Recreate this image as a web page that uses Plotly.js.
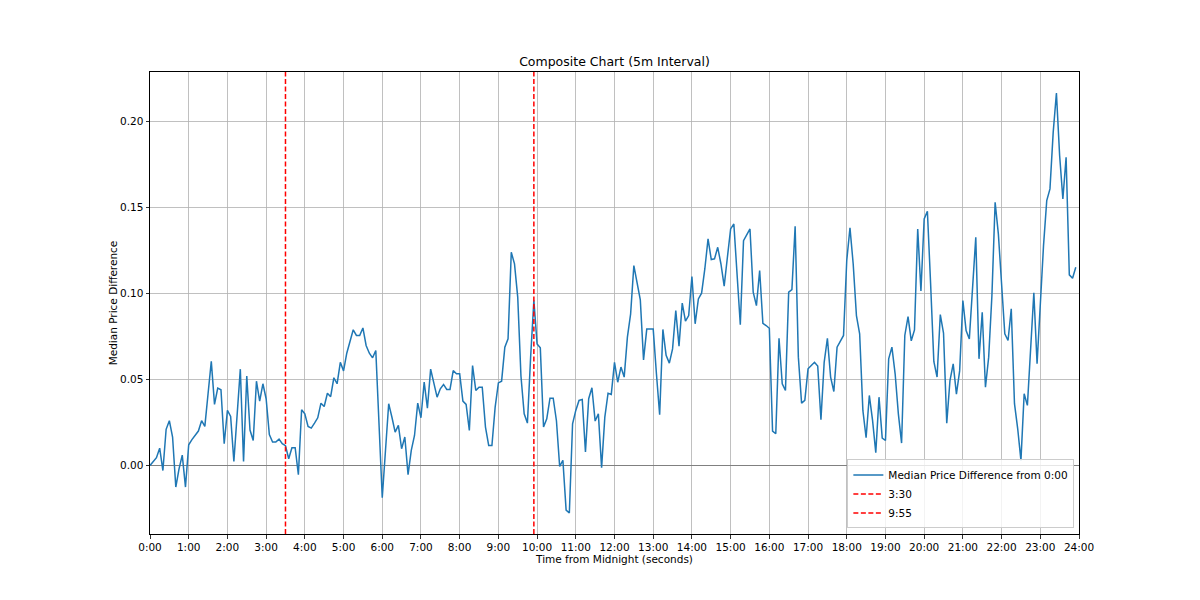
<!DOCTYPE html>
<html>
<head>
<meta charset="utf-8">
<script src="https://cdn.plot.ly/plotly-3.0.1.min.js"></script>
<style>html,body{margin:0;padding:0;background:#fff;}#chart{width:1200px;height:600px;}</style>
</head>
<body>
<div id="chart"></div>
<script>
// 5-minute interval, one row per hour (12 values each)
const intervalSeconds = 300;
const medianDiff = [
  0.000, 0.002, 0.0045, 0.010, -0.003, 0.021, 0.026, 0.0165, -0.0126, -0.002, 0.006, -0.0126,
  0.012, 0.015, 0.0174, 0.020, 0.026, 0.0227, 0.0417, 0.0605, 0.0355, 0.045, 0.044, 0.0126,
  0.032, 0.0285, 0.0023, 0.030, 0.056, 0.0023, 0.052, 0.0206, 0.0145, 0.049, 0.0374, 0.0475,
  0.0388, 0.018, 0.0136, 0.0136, 0.0153, 0.0126, 0.0115, 0.0039, 0.0103, 0.0103, -0.0054, 0.0324,
  0.030, 0.0227, 0.0217, 0.0246, 0.0277, 0.0362, 0.0343, 0.042, 0.040, 0.051, 0.0475, 0.060,
  0.055, 0.0653, 0.0717, 0.0789, 0.0756, 0.0756, 0.080, 0.0698, 0.0653, 0.0626, 0.0669, 0.024,
  -0.0188, 0.0087, 0.0359, 0.028, 0.0194, 0.0233, 0.0097, 0.0165, -0.0054, 0.0087, 0.0174, 0.0362,
  0.0277, 0.0485, 0.0333, 0.056, 0.0475, 0.0397, 0.0446, 0.0471, 0.0442, 0.0442, 0.0552, 0.0533,
  0.0533, 0.0374, 0.0355, 0.0203, 0.0581, 0.0436, 0.0455, 0.0455, 0.0223, 0.0116, 0.0116, 0.0339,
  0.048, 0.049, 0.0688, 0.0737, 0.124, 0.1173, 0.0979, 0.052, 0.030, 0.0246, 0.063, 0.096,
  0.0707, 0.0684, 0.0223, 0.0271, 0.0391, 0.0391, 0.026, -0.0006, 0.003, -0.026, -0.0277, 0.0242,
  0.032, 0.0378, 0.0384, 0.0078, 0.0388, 0.0452, 0.0258, 0.030, -0.0014, 0.0281, 0.042, 0.0413,
  0.060, 0.0484, 0.0572, 0.0514, 0.0746, 0.0882, 0.1163, 0.1066, 0.0963, 0.0614, 0.0793, 0.0793,
  0.0793, 0.0533, 0.0295, 0.0791, 0.064, 0.0595, 0.0678, 0.0901, 0.0694, 0.0944, 0.0839, 0.0872,
  0.1099, 0.0824, 0.0969, 0.1002, 0.1143, 0.1318, 0.1198, 0.1202, 0.1269, 0.1172, 0.1043, 0.1211,
  0.1376, 0.1405, 0.1095, 0.0818, 0.1308, 0.1343, 0.1376, 0.1008, 0.093, 0.1134, 0.0827, 0.0814,
  0.0798, 0.020, 0.0184, 0.074, 0.0475, 0.0436, 0.1008, 0.1023, 0.1391, 0.063, 0.0362, 0.0378,
  0.0562, 0.0581, 0.060, 0.0578, 0.0266, 0.060, 0.074, 0.0514, 0.043, 0.0688, 0.0727, 0.0756,
  0.1192, 0.1382, 0.1172, 0.0872, 0.0766, 0.032, 0.0161, 0.0407, 0.0262, 0.0074, 0.0397, 0.0159,
  0.0145, 0.062, 0.0688, 0.0533, 0.030, 0.013, 0.0756, 0.0866, 0.0725, 0.0788, 0.1376, 0.1015,
  0.1434, 0.1479, 0.1056, 0.0605, 0.0514, 0.0878, 0.077, 0.0246, 0.0494, 0.0591, 0.0415, 0.055,
  0.0959, 0.0785, 0.0736, 0.1066, 0.1328, 0.062, 0.0891, 0.0455, 0.063, 0.0988, 0.1531, 0.1347,
  0.1047, 0.0766, 0.0727, 0.0911, 0.0359, 0.0213, 0.0029, 0.0417, 0.0349, 0.0678, 0.1004, 0.0591,
  0.0969, 0.1279, 0.1541, 0.1609, 0.1938, 0.2167, 0.1802, 0.155, 0.1793, 0.1109, 0.1089, 0.1153
];
const markerTimes = [12600, 35700];
const markerLabels = ["3:30", "9:55"];
const xTickValues = [0,3600,7200,10800,14400,18000,21600,25200,28800,32400,36000,39600,43200,46800,50400,54000,57600,61200,64800,68400,72000,75600,79200,82800,86400];
const xTickLabels = ["0:00","1:00","2:00","3:00","4:00","5:00","6:00","7:00","8:00","9:00","10:00","11:00","12:00","13:00","14:00","15:00","16:00","17:00","18:00","19:00","20:00","21:00","22:00","23:00","24:00"];
const yTickValues = [0.00, 0.05, 0.10, 0.15, 0.20];
const yTickLabels = ["0.00", "0.05", "0.10", "0.15", "0.20"];

const times = medianDiff.map((_, i) => i * intervalSeconds);
const dMin = Math.min(...medianDiff), dMax = Math.max(...medianDiff);
const pad = (dMax - dMin) * 0.05;
const yLo = dMin - pad, yHi = dMax + pad;

const font = "DejaVu Sans, Verdana, sans-serif";
const traces = [{
  x: times, y: medianDiff, type: "scatter", mode: "lines",
  name: "Median Price Difference from 0:00",
  line: {color: "#1f77b4", width: 1.5}
}];
markerTimes.forEach((t, k) => traces.push({
  x: [t, t], y: [yLo, yHi], type: "scatter", mode: "lines",
  name: markerLabels[k],
  line: {color: "red", width: 1.5, dash: "5px,2.5px"}
}));

const layout = {
  width: 1200, height: 600,
  paper_bgcolor: "#fff", plot_bgcolor: "#fff",
  margin: {l: 150, r: 121, t: 72, b: 66},
  font: {family: font, size: 10.5, color: "#000"},
  title: {text: "Composite Chart (5m Interval)", font: {family: font, size: 12.5, color: "#000"},
          x: 0.5, xref: "paper", y: 1 - 62/600, yref: "container", yanchor: "middle"},
  showlegend: true,
  legend: {x: 0.995, y: 0.012, xanchor: "right", yanchor: "bottom",
           bgcolor: "rgba(255,255,255,0.8)", bordercolor: "#cccccc", borderwidth: 1,
           itemwidth: 30,
           font: {family: font, size: 10.5, color: "#000"}},
  xaxis: {
    range: [0, 86400], tickmode: "array", tickvals: xTickValues, ticktext: xTickLabels,
    showgrid: true, gridcolor: "#b0b0b0", gridwidth: 0.8,
    showline: true, linecolor: "#000", linewidth: 1, mirror: true,
    ticks: "outside", ticklen: 3.5, tickcolor: "#000", tickwidth: 0.8,
    zeroline: false,
    title: {text: "Time from Midnight (seconds)", font: {family: font, size: 10.5, color: "#000"}, standoff: 1}
  },
  yaxis: {
    range: [yLo, yHi], tickmode: "array", tickvals: yTickValues, ticktext: yTickLabels,
    showgrid: true, gridcolor: "#b0b0b0", gridwidth: 0.8,
    showline: true, linecolor: "#000", linewidth: 1, mirror: true,
    ticks: "outside", ticklen: 3.5, tickcolor: "#000", tickwidth: 0.8,
    zeroline: true, zerolinecolor: "#808080", zerolinewidth: 1,
    title: {text: "Median Price Difference", font: {family: font, size: 10.5, color: "#000"}, standoff: 0}
  }
};
Plotly.newPlot("chart", traces, layout, {staticPlot: true, displayModeBar: false});
</script>
</body>
</html>
